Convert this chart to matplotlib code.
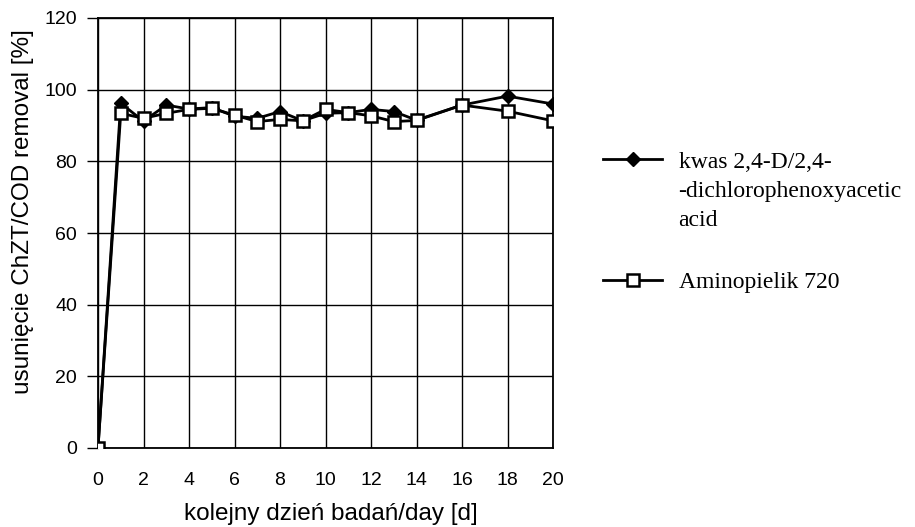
import matplotlib
matplotlib.use("Agg")
import matplotlib.pyplot as plt

days = [0, 1, 2, 3, 4, 5, 6, 7, 8, 9, 10, 11, 12, 13, 14, 16, 18, 20]
kwas = [0, 96.2, 91.2, 95.7, 94.6, 95.0, 92.6, 92.0, 93.9, 91.3, 93.4, 93.6, 94.5, 93.9, 91.5, 95.7, 98.2, 96.0]
amino = [0, 93.4, 92.0, 93.4, 94.5, 94.8, 92.9, 91.1, 91.7, 91.3, 94.5, 93.6, 92.7, 91.1, 91.4, 95.7, 94.0, 91.3]

lab_kwas = "kwas 2,4-D/2,4-"
lab_kwas_cont = "-dichlorophenoxyacetic\nacid"
lab_amino = "Aminopielik 720"

plt.rcParams['font.family'] = ['Liberation Sans', 'DejaVu Sans']

fig = plt.figure(figsize=(9.15, 5.27), dpi=100)
ax = fig.add_axes([98/915, 1-448/527, 455/915, 430/527])

ax.plot(days, kwas, '-', color='black', lw=2, marker='D', ms=7.5,
        mfc='black', mec='black', label=lab_kwas, zorder=3)
ax.plot(days, amino, '-', color='black', lw=2, marker='s', ms=8.5,
        mfc='white', mec='black', mew=1.8, label=lab_amino, zorder=4)

ax.set_xlim(0, 20)
ax.set_ylim(0, 120)
ax.set_xticks(range(0, 21, 2))
ax.set_yticks(range(0, 121, 20))
ax.grid(True, color='black', lw=1.0)
ax.tick_params(axis='x', length=0, pad=17, labelsize=14)
ax.tick_params(axis='y', length=8, width=1, pad=7, labelsize=14)
for s in ax.spines.values():
    s.set_linewidth(1.3)

ax.set_xlabel("kolejny dzień badań/day [d]", fontsize=17.5)
ax.set_ylabel("usunięcie ChZT/COD removal [%]", fontsize=17.5)
ax.xaxis.set_label_coords((331-98)/455, (448-503)/430)
ax.yaxis.set_label_coords((34-98)/455, (448-212)/430)

serif = {'family': 'Liberation Serif', 'size': 17}
leg = fig.legend(loc='upper left', bbox_to_anchor=(603/915, 1-151/527),
                 frameon=False, handlelength=2.5, handletextpad=0.7,
                 labelspacing=4.2, borderpad=0, borderaxespad=0, prop=serif)

# continuation of the first legend label, aligned with its text
fig.canvas.draw()
bb = leg.get_texts()[0].get_window_extent().transformed(fig.transFigure.inverted())
fig.text(bb.x0, bb.y0 - 0.017, lab_kwas_cont, ha='left', va='top',
         linespacing=1.45, **serif)

fig.savefig('out.png', dpi=100)
